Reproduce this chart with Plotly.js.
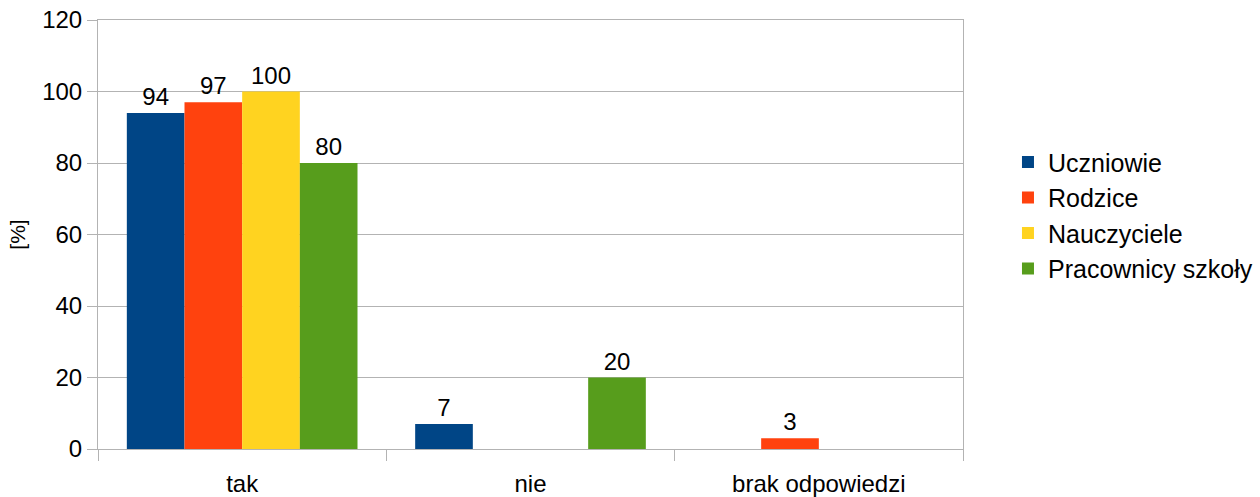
<!DOCTYPE html>
<html><head><meta charset="utf-8">
<script src="https://cdn.plot.ly/plotly-3.0.1.min.js"></script>
<style>body{margin:0;background:#fff}#c{width:1260px;height:497px}</style>
</head><body><div id="c"></div>
<script>
const categories = ["tak", "nie", "brak odpowiedzi"];
const seriesNames = ["Uczniowie", "Rodzice", "Nauczyciele", "Pracownicy szkoły"];
const uczniowie = [94, 7, null];
const rodzice = [97, null, 3];
const nauczyciele = [100, null, null];
const pracownicy = [80, 20, null];
const yTicks = [0, 20, 40, 60, 80, 100, 120];
const colors = ["#004586", "#ff420e", "#ffd320", "#579d1c"];
const allVals = [uczniowie, rodzice, nauczyciele, pracownicy];

const traces = allVals.map((v, i) => ({
  type: "bar", name: seriesNames[i], x: categories, y: v,
  legendgroup: "g" + i,
  marker: {color: colors[i], line: {width: 0}},
  text: v.map(d => d == null ? "" : String(d)),
  textposition: "outside", cliponaxis: false,
  textfont: {size: 24, color: "#000"},
  hoverinfo: "none"
}));

const layout = {
  width: 1260, height: 497,
  margin: {l: 98, r: 297, t: 20, b: 48, autoexpand: false},
  paper_bgcolor: "#fff", plot_bgcolor: "#fff",
  font: {family: "Liberation Sans, Arial, sans-serif", size: 24, color: "#000"},
  barmode: "group", bargap: 0.2, bargroupgap: 0,
  showlegend: true,
  legend: {x: 1.052, xanchor: "left", y: 0.545, yanchor: "middle",
    font: {size: 25}, tracegroupgap: 9, itemwidth: 30, traceorder: "normal"},
  xaxis: {type: "category", tickson: "boundaries", ticks: "outside", ticklen: 11,
    tickcolor: "#b3b3b3", showgrid: false, showline: true, linecolor: "#b3b3b3",
    mirror: true, tickfont: {size: 24}, ticklabelstandoff: 13},
  yaxis: {range: [0, 120], tickvals: yTicks, ticks: "outside", ticklen: 10,
    tickcolor: "#b3b3b3", showgrid: true, gridcolor: "#b3b3b3", showline: true,
    linecolor: "#b3b3b3", mirror: true, zeroline: false, tickfont: {size: 24},
    title: {text: "[%]", font: {size: 21}, standoff: 10}}
};
Plotly.newPlot("c", traces, layout, {displayModeBar: false, staticPlot: true});
</script></body></html>
